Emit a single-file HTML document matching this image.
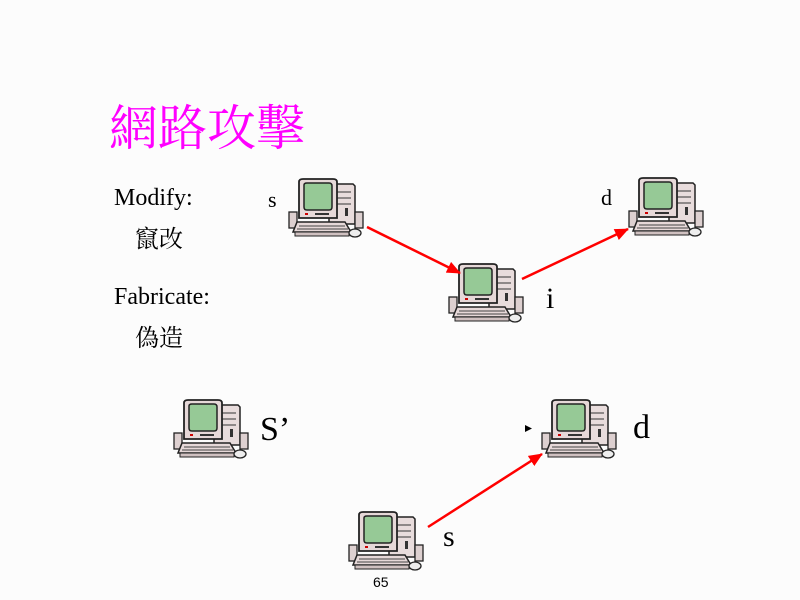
<!DOCTYPE html>
<html><head><meta charset="utf-8"><style>
body{margin:0;width:800px;height:600px;background:#fcfcfc;overflow:hidden;position:relative;font-family:"Liberation Serif","Noto Serif CJK SC",serif;}
.t{position:absolute;white-space:nowrap;color:#000;}
</style></head><body>
<svg width="800" height="600" style="position:absolute;left:0;top:0">
<defs>
<symbol id="pc" viewBox="0 0 80 62">
  <path d="M42 6 L66 6 L68 8 L68 46 L42 46 Z" fill="#e8dcdc" stroke="#222" stroke-width="1.5"/>
  <line x1="50" y1="14" x2="64" y2="14" stroke="#333"/><line x1="50" y1="20" x2="64" y2="20" stroke="#333"/>
  <line x1="50" y1="26" x2="64" y2="26" stroke="#333"/><rect x="58" y="30" width="3" height="8" fill="#333"/>
  <rect x="2" y="34" width="8" height="16" fill="#ddd0d0" stroke="#222" stroke-width="1.3"/>
  <rect x="68" y="34" width="8" height="16" fill="#ddd0d0" stroke="#222" stroke-width="1.3"/>
  <path d="M12 4 Q12 1 16 1 L46 1 Q50 1 50 4 L50 40 L12 40 Z" fill="#e6d8d8" stroke="#222" stroke-width="1.8"/>
  <path d="M17 7 Q17 5 20 5 L42 5 Q45 5 45 8 L45 29 Q45 32 42 32 L20 32 Q17 32 17 29 Z" fill="#96c996" stroke="#222" stroke-width="1.5"/>
  <rect x="18" y="35" width="3" height="2" fill="#c00"/>
  <rect x="28" y="35" width="14" height="2" fill="#333"/>
  <path d="M10 44 L58 44 L64 54 L6 54 Z" fill="#e6d8d8" stroke="#222" stroke-width="1.5"/>
  <line x1="12" y1="48" x2="58" y2="48" stroke="#444"/><line x1="10" y1="51" x2="61" y2="51" stroke="#444"/>
  <path d="M8 54 L62 54 L62 58 L8 58 Z" fill="#cfc0c0" stroke="#222"/>
  <ellipse cx="68" cy="55" rx="6" ry="4" fill="#eee" stroke="#222" stroke-width="1.3"/>
</symbol>
<marker id="ah" markerWidth="14" markerHeight="12" refX="13" refY="6" orient="auto" markerUnits="userSpaceOnUse">
  <path d="M0 0 L14 6 L0 12 Z" fill="#f00"/>
</marker>
</defs>
<use href="#pc" x="287" y="178" width="80" height="62"/>
<use href="#pc" x="627" y="177" width="80" height="62"/>
<use href="#pc" x="447" y="263" width="80" height="62"/>
<use href="#pc" x="172" y="399" width="80" height="62"/>
<use href="#pc" x="540" y="399" width="80" height="62"/>
<use href="#pc" x="347" y="511" width="80" height="62"/>
<g stroke="#f00" stroke-width="2.5" fill="none" marker-end="url(#ah)">
<line x1="367" y1="227" x2="460" y2="273"/>
<line x1="522" y1="279" x2="628" y2="229"/>
<line x1="428" y1="527" x2="542" y2="454"/>
</g>
<path d="M525 425 L532 428.5 L525 432 Z" fill="#000"/>
</svg>
<div class="t" style="left:109px;top:90px;font-size:49px;color:#f0f;">網路攻擊</div>
<div class="t" style="left:114px;top:185px;font-size:24px;">Modify:</div>
<div class="t" style="left:135px;top:219px;font-size:24px;">竄改</div>
<div class="t" style="left:114px;top:284px;font-size:24px;">Fabricate:</div>
<div class="t" style="left:135px;top:318px;font-size:24px;">偽造</div>
<div class="t" style="left:268px;top:187px;font-size:22px;">s</div>
<div class="t" style="left:601px;top:185px;font-size:22px;">d</div>
<div class="t" style="left:546px;top:282px;font-size:30px;">i</div>
<div class="t" style="left:260px;top:411px;font-size:34px;">S’</div>
<div class="t" style="left:633px;top:409px;font-size:34px;">d</div>
<div class="t" style="left:443px;top:520px;font-size:30px;">s</div>
<div class="t" style="left:373px;top:574px;font-size:14px;font-family:'Liberation Sans',sans-serif;">65</div>
</body></html>
